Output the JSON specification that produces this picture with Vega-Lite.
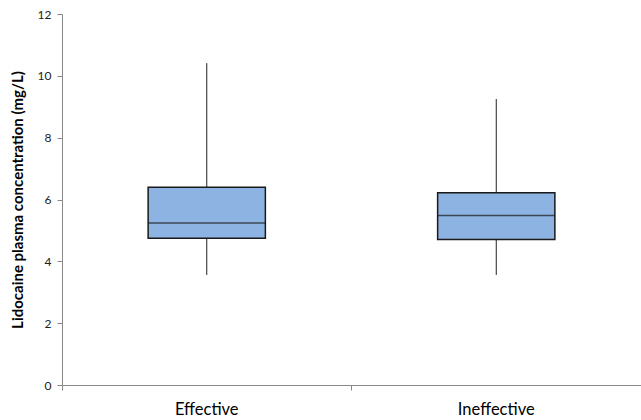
{
  "$schema": "https://vega.github.io/schema/vega-lite/v6.json",
  "autosize": "none",
  "width": 579,
  "height": 371,
  "padding": {"left": 62, "top": 14, "right": 0, "bottom": 35},
  "background": "white",
  "config": {"view": {"stroke": null}, "font": "Lato"},
  "data": {"values": [
    {"group": "Effective", "min": 3.56, "q1": 4.75, "median": 5.24, "q3": 6.40, "max": 10.41},
    {"group": "Ineffective", "min": 3.56, "q1": 4.71, "median": 5.48, "q3": 6.22, "max": 9.25}
  ]},
  "encoding": {
    "x": {"field": "group", "type": "nominal", "sort": null,
      "scale": {"paddingInner": 0, "paddingOuter": 0},
      "axis": {"title": null, "labelAngle": 0, "labelFontSize": 16.5, "labelColor": "#000", "labelPadding": 11,
        "domainColor": "#888", "tickColor": "#888", "tickSize": 5, "bandPosition": 0, "labelFont": "Lato"}}
  },
  "layer": [
    {"mark": {"type": "rule", "color": "#222", "strokeWidth": 1},
      "encoding": {
        "y": {"field": "min", "type": "quantitative",
          "scale": {"domain": [0, 12], "nice": false},
          "axis": {"values": [0, 2, 4, 6, 8, 10, 12], "grid": false, "title": "Lidocaine plasma concentration (mg/L)",
            "titleFontSize": 15, "titleFontWeight": "bold", "titleColor": "#000", "titlePadding": 12,
            "labelFontSize": 12, "labelColor": "#222", "labelPadding": 6,
            "domainColor": "#888", "tickColor": "#888", "tickSize": 5}},
        "y2": {"field": "max"}
      }},
    {"mark": {"type": "bar", "fill": "#8db3e2", "stroke": "#1a1a1a", "strokeWidth": 1.5, "width": {"band": 0.405}},
      "encoding": {
        "y": {"field": "q1", "type": "quantitative"},
        "y2": {"field": "q3"}
      }},
    {"mark": {"type": "tick", "color": "#1a1a1a", "thickness": 1.5, "size": 117},
      "encoding": {
        "y": {"field": "median", "type": "quantitative"}
      }}
  ]
}
